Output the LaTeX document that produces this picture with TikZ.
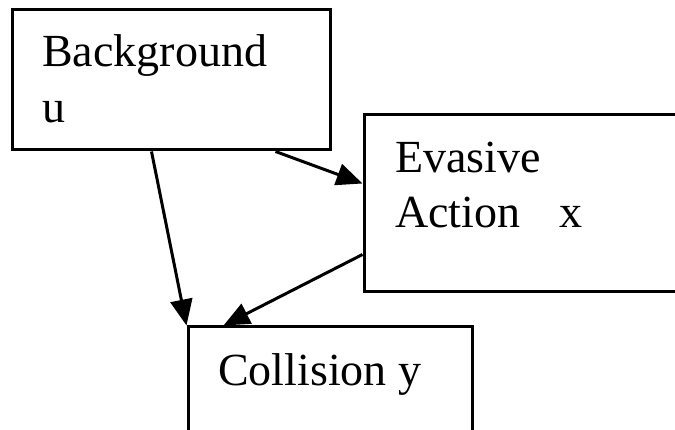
\documentclass[tikz,border=0pt]{standalone}
\usepackage{fontspec}
\setmainfont{Liberation Serif}
\usetikzlibrary{arrows.meta,calc}
\begin{document}
\begin{tikzpicture}[x=1pt,y=1pt,
  box/.style={draw=black,line width=3pt,fill=white,inner sep=0pt,minimum width=#1},
  lbl/.style={anchor=base west,inner sep=0pt,font=\fontsize{46}{55}\selectfont},
  conn/.style={line width=3pt,-{Triangle[length=26pt,width=22pt]}}]
\useasboundingbox (0,0) rectangle (675,-430);
\clip (0,0) rectangle (675,-430);
\fill[white] (0,0) rectangle (675,-430);
% boxes
\node[box=318pt,minimum height=140pt] (bg) at (171,-80) {};
\node[box=326pt,minimum height=177pt] (ev) at (527,-203.5) {};
\node[box=284pt,minimum height=133pt] (col) at (330,-393.5) {};
% texts
\node[lbl] (t1) at (42,-67) {Background};
\node[lbl] (t2) at (42,-123) {u};
\node[lbl] (t3) at (395,-173) {Evasive};
\node[lbl] (t4) at (395,-228) {Action\hspace{0.85em}x};
\node[lbl] (t5) at (218,-385) {Collision y};
% connectors
\draw[conn] ($(bg.south west)+(141,0)$) -- (col.north west);
\draw[conn] ($(bg.south west)+(265,0)$) -- ($(ev.north west)+(0,-70)$);
\draw[conn] ($(ev.north west)+(0,-141)$) -- ($(col.north west)+(37,0)$);
\end{tikzpicture}
\end{document}
